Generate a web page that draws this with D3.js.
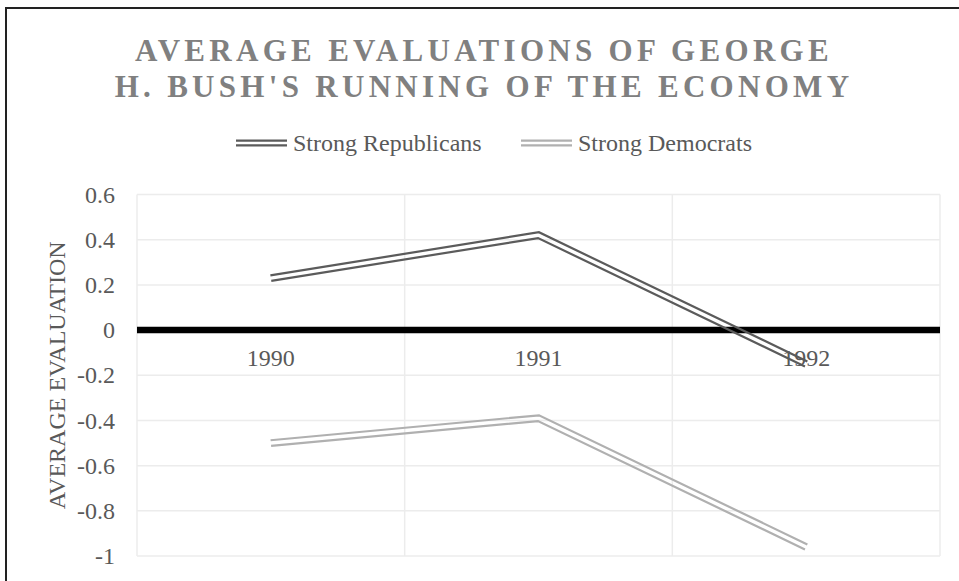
<!DOCTYPE html>
<html>
<head>
<meta charset="utf-8">
<script src="https://cdn.jsdelivr.net/npm/d3@7"></script>
<style>
  html, body { margin: 0; padding: 0; background: #fff; }
  svg { display: block; }
  svg text { font-family: "Liberation Serif", "Times New Roman", serif !important; }
</style>
</head>
<body>
<svg id="chart" width="959" height="581"></svg>
<script>
// Survey years and average evaluation by partisan group
const years = ["1990", "1991", "1992"];
const strongRepublicans = [0.23, 0.42, -0.15];
const strongDemocrats = [-0.50, -0.39, -0.96];
const yTicks = [-1, -0.8, -0.6, -0.4, -0.2, 0, 0.2, 0.4, 0.6];
const seriesNames = ["Strong Republicans", "Strong Democrats"];
const seriesColors = ["#5b5b5b", "#b0b0b0"];
const titleLines = ["AVERAGE EVALUATIONS OF GEORGE", "H. BUSH'S RUNNING OF THE ECONOMY"];
const yTitle = "AVERAGE EVALUATION";

const svg = d3.select("#chart");
const W = 959, H = 581;
const plot = { left: 137, right: 940, top: 194.5, bottom: 556 };

svg.append("rect").attr("width", W).attr("height", H).attr("fill", "#fff");

// chart frame
svg.append("rect")
  .attr("x", 6).attr("y", 8).attr("width", 980).attr("height", 600)
  .attr("fill", "none").attr("stroke", "#222").attr("stroke-width", 2);

const x = d3.scaleBand().domain(years).range([plot.left, plot.right]);
const y = d3.scaleLinear().domain([-1, 0.6]).range([plot.bottom, plot.top]);
const cx = d => x(d) + x.bandwidth() / 2;

// title
svg.append("g").selectAll("text").data(titleLines).join("text")
  .attr("x", 484).attr("y", (d, i) => 61 + i * 36)
  .attr("text-anchor", "middle")
  .attr("font-size", 31).attr("font-weight", "bold")
  .attr("letter-spacing", 4.3)
  .attr("fill", "#808080")
  .text(d => d);

// gridlines
const grid = svg.append("g").attr("stroke", "#ececec").attr("stroke-width", 1.5);
grid.selectAll("line.h").data(yTicks).join("line").attr("class", "h")
  .attr("x1", plot.left).attr("x2", plot.right)
  .attr("y1", d => y(d)).attr("y2", d => y(d));
const bounds = years.map(d => x(d)).concat([plot.right]);
grid.selectAll("line.v").data(bounds).join("line").attr("class", "v")
  .attr("x1", d => d).attr("x2", d => d)
  .attr("y1", plot.top).attr("y2", plot.bottom);

// y axis
const yAxis = svg.append("g")
  .attr("transform", `translate(${plot.left},0)`)
  .call(d3.axisLeft(y).tickValues(yTicks).tickSize(0).tickPadding(22)
    .tickFormat(d => String(+d.toFixed(1))));
yAxis.select(".domain").remove();
yAxis.attr("font-family", null).attr("font-size", 24);
yAxis.selectAll("text").attr("fill", "#595959");

// y axis title
svg.append("text")
  .attr("transform", `translate(65,${(plot.top + plot.bottom) / 2}) rotate(-90)`)
  .attr("text-anchor", "middle")
  .attr("font-size", 24).attr("fill", "#595959")
  .text(yTitle);

// category axis at zero
const xAxis = svg.append("g")
  .attr("transform", `translate(0,${y(0)})`)
  .call(d3.axisBottom(x).tickSize(0).tickPadding(19));
xAxis.select(".domain").remove();
xAxis.attr("font-family", null).attr("font-size", 24);
xAxis.selectAll("text").attr("fill", "#595959");

// zero line
svg.append("line")
  .attr("x1", plot.left).attr("x2", plot.right)
  .attr("y1", y(0)).attr("y2", y(0))
  .attr("stroke", "#000").attr("stroke-width", 6.5);

// parallel offset of a polyline (mitred joins), used for the double-line style
function offsetPoints(pts, d) {
  const n = pts.length;
  const normals = [];
  for (let i = 0; i < n - 1; i++) {
    const dx = pts[i + 1][0] - pts[i][0], dy = pts[i + 1][1] - pts[i][1];
    const len = Math.hypot(dx, dy);
    normals.push([-dy / len, dx / len]);
  }
  return pts.map((p, i) => {
    if (i === 0) return [p[0] + normals[0][0] * d, p[1] + normals[0][1] * d];
    if (i === n - 1) return [p[0] + normals[n - 2][0] * d, p[1] + normals[n - 2][1] * d];
    const a = normals[i - 1], b = normals[i];
    let mx = a[0] + b[0], my = a[1] + b[1];
    const ml = Math.hypot(mx, my);
    mx /= ml; my /= ml;
    const k = d / (mx * a[0] + my * a[1]);
    return [p[0] + mx * k, p[1] + my * k];
  });
}

const line = d3.line();
const seriesData = [strongRepublicans, strongDemocrats];
const lines = svg.append("g");
seriesData.forEach((vals, si) => {
  const pts = vals.map((v, i) => [cx(years[i]), y(v)]);
  [-2.8, 2.8].forEach(off => {
    lines.append("path")
      .attr("d", line(offsetPoints(pts, off)))
      .attr("fill", "none")
      .attr("stroke", seriesColors[si])
      .attr("stroke-width", 2.2)
      .attr("stroke-linejoin", "miter");
  });
});

// legend
const legendX = [236, 521];
const legend = svg.append("g");
seriesNames.forEach((name, i) => {
  const g = legend.append("g").attr("transform", `translate(${legendX[i]},143)`);
  [-2.4, 2.4].forEach(off => {
    g.append("line").attr("x1", 0).attr("x2", 51).attr("y1", off).attr("y2", off)
      .attr("stroke", seriesColors[i]).attr("stroke-width", 2.2);
  });
  g.append("text").attr("x", 57).attr("y", 8)
    .attr("font-size", 24).attr("fill", "#595959").text(name);
});
</script>
</body>
</html>
